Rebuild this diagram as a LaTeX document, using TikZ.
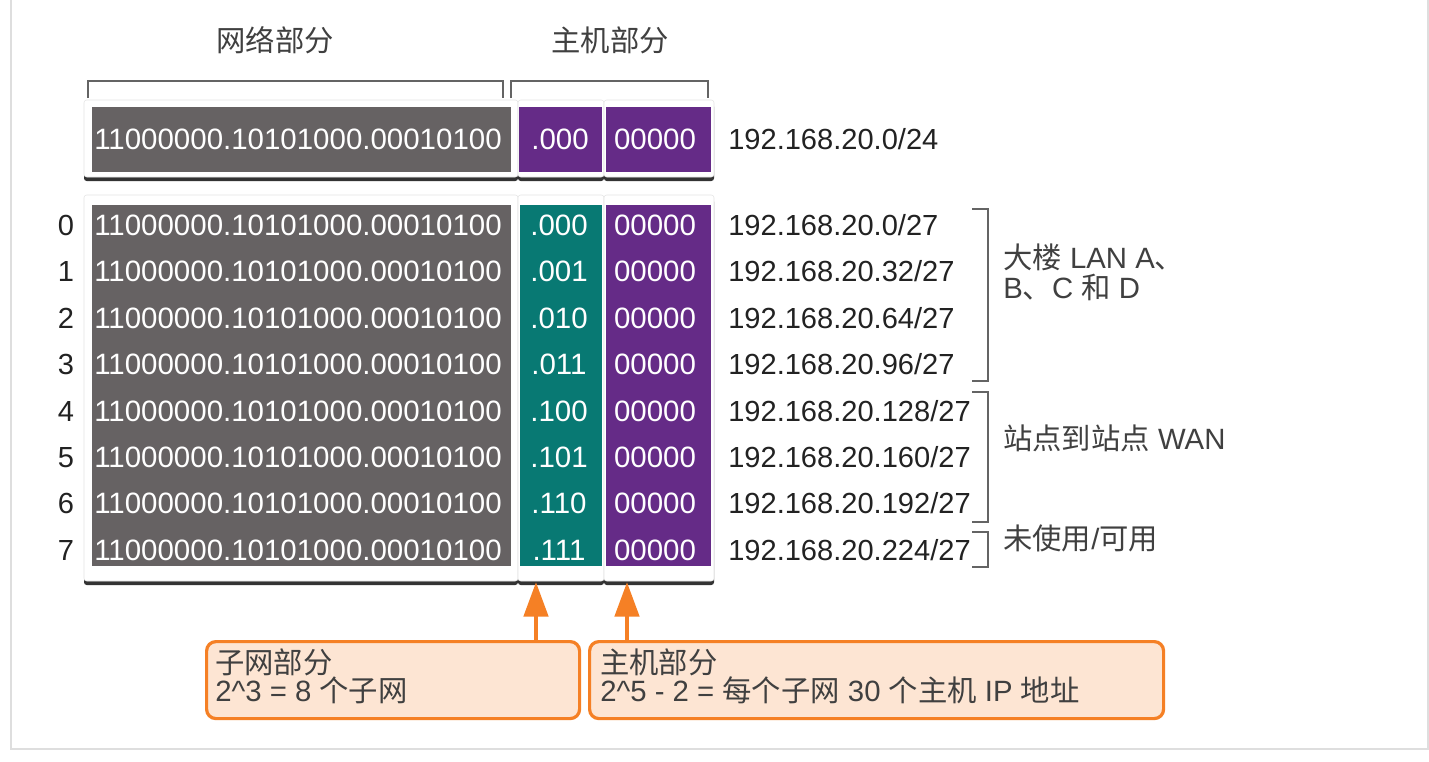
\documentclass[tikz,border=0pt]{standalone}
\usepackage{fontspec}
\setmainfont{Liberation Sans}
\newfontfamily\cjk{Noto Sans CJK SC}
\usetikzlibrary{shadows,arrows.meta,calc}
\definecolor{ngray}{RGB}{102,98,99}
\definecolor{nteal}{RGB}{8,121,115}
\definecolor{npurple}{RGB}{101,43,135}
\definecolor{norange}{RGB}{245,128,37}
\definecolor{nofill}{RGB}{253,229,211}
\definecolor{ntext}{RGB}{34,34,34}
\definecolor{nhead}{RGB}{64,64,64}
\definecolor{nbrack}{RGB}{100,100,100}
\definecolor{nframe}{RGB}{222,222,222}
\newcommand\fbin{\fontsize{22.1}{26}\selectfont}
\newcommand\fip{\fontsize{21.8}{24}\selectfont}
\newcommand\fgr{\fontsize{22}{20.5}\selectfont}
\newcommand\fcj{\cjk\fontsize{22}{20.5}\selectfont}
\newcommand\cj[1]{{\cjk #1}}
\begin{document}
\begin{tikzpicture}[x=0.75pt,y=-0.75pt,
  panel/.style={fill=white, draw=black!10, line width=0.4pt, rounded corners=2pt,
    drop shadow={shadow xshift=0pt, shadow yshift=-3pt, opacity=0.8, fill=black}},
  bintext/.style={text=white, font=\fbin, inner sep=0pt, anchor=base},
  iptext/.style={text=ntext, font=\fip, inner sep=0pt, anchor=base west},
  numtext/.style={text=ntext, font=\fip, inner sep=0pt, anchor=base},
  headtext/.style={text=nhead, font=\fcj, inner sep=0pt},
  grptext/.style={text=nhead, font=\fgr, inner sep=0pt, anchor=base west},
  brack/.style={draw=nbrack, line width=1.5pt},
  obox/.style={draw=norange, fill=nofill, line width=2.4pt, rounded corners=7pt,
    anchor=north west, inner sep=0pt},
  oarrow/.style={draw=norange, line width=3.6pt, -{Triangle[width=18pt,length=26pt]}}]
\clip (0,0) rectangle (1429,761);
\fill[white] (0,0) rectangle (1429,761);
\draw[nframe, line width=0.9pt] (11,-20) rectangle (1428,749);

% headers
\node[headtext] (hnet) at (275,40) {网络部分};
\node[headtext] (hhost) at (610,40) {主机部分};
\draw[brack] (88,98) -- (88,81) -- (503,81) -- (503,98);
\draw[brack] (511,98) -- (511,81) -- (708,81) -- (708,98);

% top row
\path[panel] (84,100) rectangle (518,177);
\path[panel] (518,100) rectangle (604,177);
\path[panel] (604,100) rectangle (714,177);
\fill[ngray] (92,107) rectangle (511,172);
\fill[npurple] (519,107) rectangle (602,172);
\fill[npurple] (606,107) rectangle (711,172);
\node[bintext] (t0) at (298,149.5) {11000000.10101000.00010100};
\node[bintext] (t1) at (560,149.5) {.000};
\node[bintext] (t2) at (655,149.5) {00000};
\node[iptext] (tip) at (728,149.5) {192.168.20.0/24};

% subnet rows
\path[panel] (84,195) rectangle (518,581);
\path[panel] (518,195) rectangle (604,581);
\path[panel] (604,195) rectangle (714,581);
\fill[ngray] (92,205) rectangle (511,566);
\fill[nteal] (520,205) rectangle (602,566);
\fill[npurple] (606,205) rectangle (711,566);
\foreach \i/\b/\ip in {0/000/0,1/001/32,2/010/64,3/011/96,4/100/128,5/101/160,6/110/192,7/111/224}{
  \pgfmathsetmacro\yy{225+46.4*\i+10.5}
  \node[numtext] (n\i) at (66,\yy) {\i};
  \node[bintext] (r\i) at (298,\yy) {11000000.10101000.00010100};
  \node[bintext] (s\i) at (559,\yy) {.\b};
  \node[bintext] (h\i) at (655,\yy) {00000};
  \node[iptext] (ip\i) at (728,\yy) {192.168.20.\ip/27};
}

% right brackets
\draw[brack] (972,209) -- (988,209) -- (988,381) -- (972,381);
\draw[brack] (972,392) -- (988,392) -- (988,522) -- (972,522);
\draw[brack] (972,532) -- (988,532) -- (988,567) -- (972,567);
\node[grptext, anchor=north west, align=left, font=\fontsize{22}{22.5}\selectfont] (g1) at (1003,244)
  {\cj{大楼} LAN A\cj{、}\\B\cj{、}C \cj{和} D};
\node[grptext] (g2) at (1003,449) {\cj{站点到站点} WAN};
\node[grptext] (g3) at (1003,549) {\cj{未使用}/\cj{可用}};

% orange boxes
\node[obox, minimum width=373*0.75pt, minimum height=77*0.75pt] (b1) at (205,640) {};
\node[obox, minimum width=574*0.75pt, minimum height=77*0.75pt] (b2) at (588,640) {};
\node[grptext, anchor=north west, align=left, font=\fontsize{22}{21}\selectfont] (b1t) at (215,648)
  {\cj{子网部分}\\2\^{}3 = 8 \cj{个子网}};
\node[grptext, anchor=north west, align=left, font=\fontsize{22}{21}\selectfont] (b2t) at (600,648)
  {\cj{主机部分}\\2\^{}5 - 2 = \cj{每个子网} 30 \cj{个主机} IP \cj{地址}};

\coordinate (a1) at (536,582);
\coordinate (a2) at (627,582);
\draw[oarrow] (a1 |- b1.north) -- (a1);
\draw[oarrow] (a2 |- b2.north) -- (a2);
\end{tikzpicture}
\end{document}
